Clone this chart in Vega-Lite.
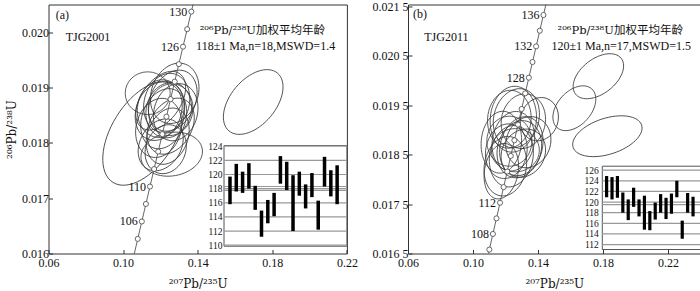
{
"$schema": "https://vega.github.io/schema/vega-lite/v6.json",
"autosize": {"type": "pad"},
"padding": {"left": 4.5, "top": -0.5, "right": 0, "bottom": 0},
"bounds": "flush",
"spacing": 60.5,
"config": {
  "font": "Liberation Serif",
  "view": {"stroke": "#333", "strokeWidth": 1},
  "axis": {"labelFont": "Liberation Serif", "labelFontSize": 12, "labelColor": "#111", "titleFont": "DejaVu Serif", "titleFontSize": 12, "titleFontWeight": "normal", "titleColor": "#111", "tickColor": "#333", "grid": false, "domain": false, "labelFlush": false, "labelOverlap": false}
},
"resolve": {"scale": {"size": "independent", "shape": "independent", "angle": "independent"}},
"datasets": {
  "conc": [
    {"t":100,"pb207_u235":0.103498,"pb206_u238":0.015633},
    {"t":102,"pb207_u235":0.105674,"pb206_u238":0.015949},
    {"t":104,"pb207_u235":0.107854,"pb206_u238":0.016264},
    {"t":106,"pb207_u235":0.110039,"pb206_u238":0.016579},
    {"t":108,"pb207_u235":0.112227,"pb206_u238":0.016895},
    {"t":110,"pb207_u235":0.114419,"pb206_u238":0.017210},
    {"t":112,"pb207_u235":0.116617,"pb206_u238":0.017526},
    {"t":114,"pb207_u235":0.118818,"pb206_u238":0.017842},
    {"t":116,"pb207_u235":0.121024,"pb206_u238":0.018157},
    {"t":118,"pb207_u235":0.123234,"pb206_u238":0.018473},
    {"t":120,"pb207_u235":0.125449,"pb206_u238":0.018789},
    {"t":122,"pb207_u235":0.127668,"pb206_u238":0.019106},
    {"t":124,"pb207_u235":0.129891,"pb206_u238":0.019422},
    {"t":126,"pb207_u235":0.132119,"pb206_u238":0.019738},
    {"t":128,"pb207_u235":0.134351,"pb206_u238":0.020054},
    {"t":130,"pb207_u235":0.136588,"pb206_u238":0.020371},
    {"t":132,"pb207_u235":0.138829,"pb206_u238":0.020688},
    {"t":134,"pb207_u235":0.141074,"pb206_u238":0.021004},
    {"t":136,"pb207_u235":0.143324,"pb206_u238":0.021321},
    {"t":138,"pb207_u235":0.145578,"pb206_u238":0.021638},
    {"t":140,"pb207_u235":0.147837,"pb206_u238":0.021955}
  ],
  "ellA": [
    {"pb207_u235":0.12177,"pb206_u238":0.018436,"major":0.03324,"aspect":"0.7","tilt":70},
    {"pb207_u235":0.12338,"pb206_u238":0.018722,"major":0.03217,"aspect":"0.75","tilt":75},
    {"pb207_u235":0.12016,"pb206_u238":0.018619,"major":0.03110,"aspect":"0.8","tilt":80},
    {"pb207_u235":0.12660,"pb206_u238":0.018762,"major":0.03432,"aspect":"0.7","tilt":65},
    {"pb207_u235":0.11909,"pb206_u238":0.018270,"major":0.03217,"aspect":"0.75","tilt":75},
    {"pb207_u235":0.12606,"pb206_u238":0.017795,"major":0.03324,"aspect":"0.7","tilt":10},
    {"pb207_u235":0.12016,"pb206_u238":0.017963,"major":0.02949,"aspect":"0.75","tilt":60},
    {"pb207_u235":0.12391,"pb206_u238":0.018120,"major":0.03110,"aspect":"0.7","tilt":70},
    {"pb207_u235":0.12767,"pb206_u238":0.018895,"major":0.03324,"aspect":"0.75","tilt":70},
    {"pb207_u235":0.12016,"pb206_u238":0.018762,"major":0.03539,"aspect":"0.6","tilt":55},
    {"pb207_u235":0.11105,"pb206_u238":0.018174,"major":0.06220,"aspect":"0.55","tilt":58},
    {"pb207_u235":0.12445,"pb206_u238":0.018590,"major":0.03003,"aspect":"0.8","tilt":75},
    {"pb207_u235":0.12552,"pb206_u238":0.018301,"major":0.03217,"aspect":"0.7","tilt":60},
    {"pb207_u235":0.12820,"pb206_u238":0.018554,"major":0.03110,"aspect":"0.75","tilt":75},
    {"pb207_u235":0.12284,"pb206_u238":0.017885,"major":0.02681,"aspect":"0.8","tilt":70},
    {"pb207_u235":0.11319,"pb206_u238":0.018897,"major":0.02413,"aspect":"0.95","tilt":0},
    {"pb207_u235":0.12552,"pb206_u238":0.018599,"major":0.02788,"aspect":"0.85","tilt":80},
    {"pb207_u235":0.11909,"pb206_u238":0.018572,"major":0.03217,"aspect":"0.75","tilt":70},
    {"pb207_u235":0.16976,"pb206_u238":0.018738,"major":0.04048,"aspect":"0.6","tilt":50}
  ],
  "ellB": [
    {"pb207_u235":0.12665,"pb206_u238":0.019235,"major":0.03692,"aspect":"0.75","tilt":75},
    {"pb207_u235":0.13095,"pb206_u238":0.019175,"major":0.03385,"aspect":"0.8","tilt":80},
    {"pb207_u235":0.12234,"pb206_u238":0.019215,"major":0.03569,"aspect":"0.75","tilt":85},
    {"pb207_u235":0.12480,"pb206_u238":0.018770,"major":0.03692,"aspect":"0.7","tilt":80},
    {"pb207_u235":0.12049,"pb206_u238":0.018568,"major":0.03385,"aspect":"0.75","tilt":80},
    {"pb207_u235":0.14080,"pb206_u238":0.019215,"major":0.02708,"aspect":"0.85","tilt":70},
    {"pb207_u235":0.12849,"pb206_u238":0.018608,"major":0.03569,"aspect":"0.75","tilt":75},
    {"pb207_u235":0.12357,"pb206_u238":0.018467,"major":0.03815,"aspect":"0.7","tilt":80},
    {"pb207_u235":0.11988,"pb206_u238":0.018265,"major":0.03692,"aspect":"0.7","tilt":80},
    {"pb207_u235":0.13095,"pb206_u238":0.018528,"major":0.03077,"aspect":"0.85","tilt":60},
    {"pb207_u235":0.11742,"pb206_u238":0.018750,"major":0.03815,"aspect":"0.65","tilt":85},
    {"pb207_u235":0.12603,"pb206_u238":0.018588,"major":0.02954,"aspect":"0.9","tilt":0},
    {"pb207_u235":0.13403,"pb206_u238":0.018750,"major":0.03200,"aspect":"0.85","tilt":70},
    {"pb207_u235":0.12480,"pb206_u238":0.019215,"major":0.04062,"aspect":"0.7","tilt":85},
    {"pb207_u235":0.11742,"pb206_u238":0.018164,"major":0.03446,"aspect":"0.6","tilt":80},
    {"pb207_u235":0.12234,"pb206_u238":0.018770,"major":0.03077,"aspect":"0.9","tilt":90},
    {"pb207_u235":0.12972,"pb206_u238":0.018669,"major":0.03692,"aspect":"0.7","tilt":75},
    {"pb207_u235":0.17711,"pb206_u238":0.020084,"major":0.03569,"aspect":"0.6","tilt":38},
    {"pb207_u235":0.16234,"pb206_u238":0.019437,"major":0.03200,"aspect":"0.65","tilt":48},
    {"pb207_u235":0.18265,"pb206_u238":0.018871,"major":0.04431,"aspect":"0.5","tilt":18}
  ],
  "txtA": [
    {"pb207_u235":0.0639,"pb206_u238":0.020307,"txt":"(a)","role":"left"},
    {"pb207_u235":0.06922,"pb206_u238":0.019909,"txt":"TJG2001","role":"left"},
    {"pb207_u235":0.17465,"pb206_u238":0.020017,"txt":"²⁰⁶Pb/²³⁸U加权平均年龄","role":"sup"},
    {"pb207_u235":0.17642,"pb206_u238":0.019746,"txt":"118±1 Ma,n=18,MSWD=1.4","role":"center"}
  ],
  "txtB": [
    {"pb207_u235":0.06308,"pb206_u238":0.021338,"txt":"(b)","role":"left"},
    {"pb207_u235":0.07002,"pb206_u238":0.020873,"txt":"TJG2011","role":"left"},
    {"pb207_u235":0.19057,"pb206_u238":0.020994,"txt":"²⁰⁶Pb/²³⁸U加权平均年龄","role":"sup"},
    {"pb207_u235":0.19118,"pb206_u238":0.020691,"txt":"120±1 Ma,n=17,MSWD=1.5","role":"center"}
  ],
  "barA": [
    {"i":1,"lo":115.8,"hi":119.7},{"i":2,"lo":117.6,"hi":121.5},{"i":3,"lo":117.4,"hi":120.4},
    {"i":4,"lo":118.0,"hi":121.6},{"i":5,"lo":115.0,"hi":118.4},{"i":6,"lo":111.2,"hi":114.9},
    {"i":7,"lo":113.1,"hi":116.4},{"i":8,"lo":114.1,"hi":117.4},{"i":9,"lo":118.7,"hi":122.6},
    {"i":10,"lo":117.8,"hi":121.8},{"i":11,"lo":112.0,"hi":119.9},{"i":12,"lo":117.0,"hi":120.4},
    {"i":13,"lo":115.2,"hi":118.6},{"i":14,"lo":116.8,"hi":120.2},{"i":15,"lo":112.2,"hi":116.3},
    {"i":16,"lo":118.3,"hi":122.5},{"i":17,"lo":116.9,"hi":120.6},{"i":18,"lo":115.8,"hi":121.3}
  ],
  "barB": [
    {"i":1,"lo":120.9,"hi":124.9},{"i":2,"lo":120.5,"hi":124.7},{"i":3,"lo":120.8,"hi":124.9},
    {"i":4,"lo":118.0,"hi":121.8},{"i":5,"lo":116.6,"hi":120.5},{"i":6,"lo":119.1,"hi":122.7},
    {"i":7,"lo":117.3,"hi":120.5},{"i":8,"lo":114.8,"hi":121.2},{"i":9,"lo":114.7,"hi":118.3},
    {"i":10,"lo":116.7,"hi":119.9},{"i":11,"lo":118.0,"hi":121.5},{"i":12,"lo":116.8,"hi":120.8},
    {"i":13,"lo":117.8,"hi":121.6},{"i":14,"lo":120.9,"hi":124.0},{"i":15,"lo":113.1,"hi":116.5},
    {"i":16,"lo":118.0,"hi":121.7},{"i":17,"lo":117.3,"hi":121.0}
  ],
  "gridA": [{"v":110},{"v":112},{"v":114},{"v":116},{"v":118},{"v":120},{"v":122},{"v":124},{"v":117.75},{"v":118.3}],
  "gridB": [{"v":112},{"v":114},{"v":116},{"v":118},{"v":120},{"v":122},{"v":124},{"v":126},{"v":119.5}]
},
"hconcat": [
 {
  "width": 298.4, "height": 249,
  "layer": [
   {"layer": [
     {"data": {"name": "ellA"},
      "mark": {"type": "point", "filled": false, "stroke": "#3a3a3a", "strokeWidth": 0.8, "opacity": 1, "clip": true},
      "encoding": {
        "x": {"field": "pb207_u235", "type": "quantitative", "scale": {"domain": [0.06, 0.22], "nice": false, "zero": false},
              "axis": {"values": [0.06, 0.1, 0.14, 0.18, 0.22], "format": ".2f", "title": "²⁰⁷Pb/²³⁵U", "tickSize": -4, "labelPadding": 8, "titlePadding": 10}},
        "y": {"field": "pb206_u238", "type": "quantitative", "scale": {"domain": [0.016, 0.0205], "nice": false, "zero": false},
              "axis": {"values": [0.016, 0.017, 0.018, 0.019, 0.02], "format": ".3f", "title": "²⁰⁶Pb/²³⁸U", "tickSize": -4, "labelPadding": 4, "titlePadding": 3}},
        "size": {"field": "major", "type": "quantitative", "scale": {"type": "pow", "exponent": 2, "domain": [0, 0.08], "range": [0, 22260]}, "legend": null},
        "angle": {"field": "tilt", "type": "quantitative", "scale": {"domain": [0, 180], "range": [360, 180]}, "legend": null},
        "shape": {"field": "aspect", "type": "nominal", "legend": null, "scale": {
          "domain": ["0.5","0.55","0.6","0.65","0.7","0.75","0.8","0.85","0.9","0.95"],
          "range": [
            "M-1,0C-1,-0.2762 -0.5523,-0.5 0,-0.5C0.5523,-0.5 1,-0.2762 1,0C1,0.2762 0.5523,0.5 0,0.5C-0.5523,0.5 -1,0.2762 -1,0Z",
            "M-1,0C-1,-0.3038 -0.5523,-0.55 0,-0.55C0.5523,-0.55 1,-0.3038 1,0C1,0.3038 0.5523,0.55 0,0.55C-0.5523,0.55 -1,0.3038 -1,0Z",
            "M-1,0C-1,-0.3314 -0.5523,-0.6 0,-0.6C0.5523,-0.6 1,-0.3314 1,0C1,0.3314 0.5523,0.6 0,0.6C-0.5523,0.6 -1,0.3314 -1,0Z",
            "M-1,0C-1,-0.359 -0.5523,-0.65 0,-0.65C0.5523,-0.65 1,-0.359 1,0C1,0.359 0.5523,0.65 0,0.65C-0.5523,0.65 -1,0.359 -1,0Z",
            "M-1,0C-1,-0.3866 -0.5523,-0.7 0,-0.7C0.5523,-0.7 1,-0.3866 1,0C1,0.3866 0.5523,0.7 0,0.7C-0.5523,0.7 -1,0.3866 -1,0Z",
            "M-1,0C-1,-0.4142 -0.5523,-0.75 0,-0.75C0.5523,-0.75 1,-0.4142 1,0C1,0.4142 0.5523,0.75 0,0.75C-0.5523,0.75 -1,0.4142 -1,0Z",
            "M-1,0C-1,-0.4418 -0.5523,-0.8 0,-0.8C0.5523,-0.8 1,-0.4418 1,0C1,0.4418 0.5523,0.8 0,0.8C-0.5523,0.8 -1,0.4418 -1,0Z",
            "M-1,0C-1,-0.4695 -0.5523,-0.85 0,-0.85C0.5523,-0.85 1,-0.4695 1,0C1,0.4695 0.5523,0.85 0,0.85C-0.5523,0.85 -1,0.4695 -1,0Z",
            "M-1,0C-1,-0.4971 -0.5523,-0.9 0,-0.9C0.5523,-0.9 1,-0.4971 1,0C1,0.4971 0.5523,0.9 0,0.9C-0.5523,0.9 -1,0.4971 -1,0Z",
            "M-1,0C-1,-0.5247 -0.5523,-0.95 0,-0.95C0.5523,-0.95 1,-0.5247 1,0C1,0.5247 0.5523,0.95 0,0.95C-0.5523,0.95 -1,0.5247 -1,0Z"
          ]}}
      }},
     {"data": {"name": "conc"},
      "mark": {"type": "line", "color": "#555", "strokeWidth": 0.9, "clip": true},
      "encoding": {
        "x": {"field": "pb207_u235", "type": "quantitative", "scale": {"domain": [0.06, 0.22], "nice": false, "zero": false}},
        "y": {"field": "pb206_u238", "type": "quantitative", "scale": {"domain": [0.016, 0.0205], "nice": false, "zero": false}},
        "order": {"field": "t", "type": "quantitative"}
      }},
     {"data": {"name": "conc"},
      "mark": {"type": "point", "shape": "circle", "filled": true, "fill": "white", "stroke": "#444", "strokeWidth": 0.8, "size": 26, "opacity": 1, "clip": true},
      "encoding": {
        "x": {"field": "pb207_u235", "type": "quantitative", "scale": {"domain": [0.06, 0.22], "nice": false, "zero": false}},
        "y": {"field": "pb206_u238", "type": "quantitative", "scale": {"domain": [0.016, 0.0205], "nice": false, "zero": false}}
      }},
     {"data": {"name": "conc"},
      "transform": [{"filter": {"field": "t", "oneOf": [106, 110, 126, 130]}}],
      "mark": {"type": "text", "align": "right", "baseline": "middle", "dx": -4, "fontSize": 12, "font": "Liberation Serif", "color": "#111"},
      "encoding": {
        "x": {"field": "pb207_u235", "type": "quantitative", "scale": {"domain": [0.06, 0.22], "nice": false, "zero": false}},
        "y": {"field": "pb206_u238", "type": "quantitative", "scale": {"domain": [0.016, 0.0205], "nice": false, "zero": false}},
        "text": {"field": "t"}
      }},
     {"data": {"name": "txtA"},
      "transform": [{"filter": "datum.role == 'left'"}],
      "mark": {"type": "text", "align": "left", "baseline": "middle", "fontSize": 12, "font": "Liberation Serif", "color": "#111"},
      "encoding": {
        "x": {"field": "pb207_u235", "type": "quantitative", "scale": {"domain": [0.06, 0.22], "nice": false, "zero": false}},
        "y": {"field": "pb206_u238", "type": "quantitative", "scale": {"domain": [0.016, 0.0205], "nice": false, "zero": false}},
        "text": {"field": "txt"}
      }},
     {"data": {"name": "txtA"},
      "transform": [{"filter": "datum.role == 'center'"}],
      "mark": {"type": "text", "align": "center", "baseline": "middle", "fontSize": 12, "font": "Liberation Serif", "color": "#111"},
      "encoding": {
        "x": {"field": "pb207_u235", "type": "quantitative", "scale": {"domain": [0.06, 0.22], "nice": false, "zero": false}},
        "y": {"field": "pb206_u238", "type": "quantitative", "scale": {"domain": [0.016, 0.0205], "nice": false, "zero": false}},
        "text": {"field": "txt"}
      }},
     {"data": {"name": "txtA"},
      "transform": [{"filter": "datum.role == 'sup'"}],
      "mark": {"type": "text", "align": "center", "baseline": "middle", "fontSize": 11.5, "font": "DejaVu Serif, Noto Sans CJK SC", "color": "#111"},
      "encoding": {
        "x": {"field": "pb207_u235", "type": "quantitative", "scale": {"domain": [0.06, 0.22], "nice": false, "zero": false}},
        "y": {"field": "pb206_u238", "type": "quantitative", "scale": {"domain": [0.016, 0.0205], "nice": false, "zero": false}},
        "text": {"field": "txt"}
      }}
   ]},
   {"layer": [
     {"data": {"values": [{}]},
      "mark": {"type": "rect", "fill": "white", "stroke": "#555", "strokeWidth": 1},
      "encoding": {
        "x": {"datum": 0.05, "type": "quantitative", "scale": {"domain": [0.05, 19.55], "range": [175.5, 298.4], "nice": false, "zero": false}, "axis": null},
        "x2": {"datum": 19.55},
        "y": {"datum": 109.86, "type": "quantitative", "scale": {"domain": [109.86, 124.1], "range": [241.7, 141.0], "nice": false, "zero": false},
              "axis": {"orient": "left", "offset": -175.5, "values": [110,112,114,116,118,120,122,124], "ticks": false, "domain": false, "labelFontSize": 9.5, "labelPadding": 2, "labelOverlap": false, "labelBound": false, "title": null}},
        "y2": {"datum": 124.1}
      }},
     {"data": {"name": "gridA"},
      "mark": {"type": "rule", "color": "#999", "strokeWidth": 1.2},
      "encoding": {
        "x": {"datum": 0.05, "type": "quantitative", "scale": {"domain": [0.05, 19.55], "range": [175.5, 298.4], "nice": false, "zero": false}, "axis": null},
        "x2": {"datum": 19.55},
        "y": {"field": "v", "type": "quantitative", "scale": {"domain": [109.86, 124.1], "range": [241.7, 141.0], "nice": false, "zero": false},
              "axis": {"orient": "left", "offset": -175.5, "values": [110,112,114,116,118,120,122,124], "ticks": false, "domain": false, "labelFontSize": 9.5, "labelPadding": 2, "labelOverlap": false, "labelBound": false, "title": null}}
      }},
     {"data": {"name": "barA"},
      "mark": {"type": "rule", "color": "#000", "strokeWidth": 3.5},
      "encoding": {
        "x": {"field": "i", "type": "quantitative", "scale": {"domain": [0.05, 19.55], "range": [175.5, 298.4], "nice": false, "zero": false}, "axis": null},
        "y": {"field": "lo", "type": "quantitative", "scale": {"domain": [109.86, 124.1], "range": [241.7, 141.0], "nice": false, "zero": false},
              "axis": {"orient": "left", "offset": -175.5, "values": [110,112,114,116,118,120,122,124], "ticks": false, "domain": false, "labelFontSize": 9.5, "labelPadding": 2, "labelOverlap": false, "labelBound": false, "title": null}},
        "y2": {"field": "hi"}
      }}
   ]}
  ],
  "resolve": {"scale": {"x": "independent", "y": "independent"}, "axis": {"x": "independent", "y": "independent"}}
 },
 {
  "width": 292.6, "height": 249,
  "layer": [
   {"layer": [
     {"data": {"name": "ellB"},
      "mark": {"type": "point", "filled": false, "stroke": "#3a3a3a", "strokeWidth": 0.8, "opacity": 1, "clip": true},
      "encoding": {
        "x": {"field": "pb207_u235", "type": "quantitative", "scale": {"domain": [0.06, 0.24], "nice": false, "zero": false},
              "axis": {"values": [0.06, 0.1, 0.14, 0.18, 0.22], "format": ".2f", "title": "²⁰⁷Pb/²³⁵U", "tickSize": -4, "labelPadding": 8, "titlePadding": 10}},
        "y": {"field": "pb206_u238", "type": "quantitative", "scale": {"domain": [0.0165, 0.021534], "nice": false, "zero": false},
              "axis": {"values": [0.0165, 0.0175, 0.0185, 0.0195, 0.0205, 0.0215], "labelExpr": "slice(format(datum.value,'.4f'),0,5) + ' ' + slice(format(datum.value,'.4f'),5)", "title": null, "tickSize": -4, "labelPadding": 4}},
        "size": {"field": "major", "type": "quantitative", "scale": {"type": "pow", "exponent": 2, "domain": [0, 0.08], "range": [0, 16900]}, "legend": null},
        "angle": {"field": "tilt", "type": "quantitative", "scale": {"domain": [0, 180], "range": [360, 180]}, "legend": null},
        "shape": {"field": "aspect", "type": "nominal", "legend": null, "scale": {
          "domain": ["0.5","0.55","0.6","0.65","0.7","0.75","0.8","0.85","0.9","0.95"],
          "range": [
            "M-1,0C-1,-0.2762 -0.5523,-0.5 0,-0.5C0.5523,-0.5 1,-0.2762 1,0C1,0.2762 0.5523,0.5 0,0.5C-0.5523,0.5 -1,0.2762 -1,0Z",
            "M-1,0C-1,-0.3038 -0.5523,-0.55 0,-0.55C0.5523,-0.55 1,-0.3038 1,0C1,0.3038 0.5523,0.55 0,0.55C-0.5523,0.55 -1,0.3038 -1,0Z",
            "M-1,0C-1,-0.3314 -0.5523,-0.6 0,-0.6C0.5523,-0.6 1,-0.3314 1,0C1,0.3314 0.5523,0.6 0,0.6C-0.5523,0.6 -1,0.3314 -1,0Z",
            "M-1,0C-1,-0.359 -0.5523,-0.65 0,-0.65C0.5523,-0.65 1,-0.359 1,0C1,0.359 0.5523,0.65 0,0.65C-0.5523,0.65 -1,0.359 -1,0Z",
            "M-1,0C-1,-0.3866 -0.5523,-0.7 0,-0.7C0.5523,-0.7 1,-0.3866 1,0C1,0.3866 0.5523,0.7 0,0.7C-0.5523,0.7 -1,0.3866 -1,0Z",
            "M-1,0C-1,-0.4142 -0.5523,-0.75 0,-0.75C0.5523,-0.75 1,-0.4142 1,0C1,0.4142 0.5523,0.75 0,0.75C-0.5523,0.75 -1,0.4142 -1,0Z",
            "M-1,0C-1,-0.4418 -0.5523,-0.8 0,-0.8C0.5523,-0.8 1,-0.4418 1,0C1,0.4418 0.5523,0.8 0,0.8C-0.5523,0.8 -1,0.4418 -1,0Z",
            "M-1,0C-1,-0.4695 -0.5523,-0.85 0,-0.85C0.5523,-0.85 1,-0.4695 1,0C1,0.4695 0.5523,0.85 0,0.85C-0.5523,0.85 -1,0.4695 -1,0Z",
            "M-1,0C-1,-0.4971 -0.5523,-0.9 0,-0.9C0.5523,-0.9 1,-0.4971 1,0C1,0.4971 0.5523,0.9 0,0.9C-0.5523,0.9 -1,0.4971 -1,0Z",
            "M-1,0C-1,-0.5247 -0.5523,-0.95 0,-0.95C0.5523,-0.95 1,-0.5247 1,0C1,0.5247 0.5523,0.95 0,0.95C-0.5523,0.95 -1,0.5247 -1,0Z"
          ]}}
      }},
     {"data": {"name": "conc"},
      "mark": {"type": "line", "color": "#555", "strokeWidth": 0.9, "clip": true},
      "encoding": {
        "x": {"field": "pb207_u235", "type": "quantitative", "scale": {"domain": [0.06, 0.24], "nice": false, "zero": false}},
        "y": {"field": "pb206_u238", "type": "quantitative", "scale": {"domain": [0.0165, 0.021534], "nice": false, "zero": false}},
        "order": {"field": "t", "type": "quantitative"}
      }},
     {"data": {"name": "conc"},
      "mark": {"type": "point", "shape": "circle", "filled": true, "fill": "white", "stroke": "#444", "strokeWidth": 0.8, "size": 26, "opacity": 1, "clip": true},
      "encoding": {
        "x": {"field": "pb207_u235", "type": "quantitative", "scale": {"domain": [0.06, 0.24], "nice": false, "zero": false}},
        "y": {"field": "pb206_u238", "type": "quantitative", "scale": {"domain": [0.0165, 0.021534], "nice": false, "zero": false}}
      }},
     {"data": {"name": "conc"},
      "transform": [{"filter": {"field": "t", "oneOf": [108, 112, 128, 132, 136]}}],
      "mark": {"type": "text", "align": "right", "baseline": "middle", "dx": -4, "fontSize": 12, "font": "Liberation Serif", "color": "#111"},
      "encoding": {
        "x": {"field": "pb207_u235", "type": "quantitative", "scale": {"domain": [0.06, 0.24], "nice": false, "zero": false}},
        "y": {"field": "pb206_u238", "type": "quantitative", "scale": {"domain": [0.0165, 0.021534], "nice": false, "zero": false}},
        "text": {"field": "t"}
      }},
     {"data": {"name": "txtB"},
      "transform": [{"filter": "datum.role == 'left'"}],
      "mark": {"type": "text", "align": "left", "baseline": "middle", "fontSize": 12, "font": "Liberation Serif", "color": "#111"},
      "encoding": {
        "x": {"field": "pb207_u235", "type": "quantitative", "scale": {"domain": [0.06, 0.24], "nice": false, "zero": false}},
        "y": {"field": "pb206_u238", "type": "quantitative", "scale": {"domain": [0.0165, 0.021534], "nice": false, "zero": false}},
        "text": {"field": "txt"}
      }},
     {"data": {"name": "txtB"},
      "transform": [{"filter": "datum.role == 'center'"}],
      "mark": {"type": "text", "align": "center", "baseline": "middle", "fontSize": 12, "font": "Liberation Serif", "color": "#111"},
      "encoding": {
        "x": {"field": "pb207_u235", "type": "quantitative", "scale": {"domain": [0.06, 0.24], "nice": false, "zero": false}},
        "y": {"field": "pb206_u238", "type": "quantitative", "scale": {"domain": [0.0165, 0.021534], "nice": false, "zero": false}},
        "text": {"field": "txt"}
      }},
     {"data": {"name": "txtB"},
      "transform": [{"filter": "datum.role == 'sup'"}],
      "mark": {"type": "text", "align": "center", "baseline": "middle", "fontSize": 11.5, "font": "DejaVu Serif, Noto Sans CJK SC", "color": "#111"},
      "encoding": {
        "x": {"field": "pb207_u235", "type": "quantitative", "scale": {"domain": [0.06, 0.24], "nice": false, "zero": false}},
        "y": {"field": "pb206_u238", "type": "quantitative", "scale": {"domain": [0.0165, 0.021534], "nice": false, "zero": false}},
        "text": {"field": "txt"}
      }}
   ]},
   {"layer": [
     {"data": {"values": [{}]},
      "mark": {"type": "rect", "fill": "white", "stroke": "#555", "strokeWidth": 1},
      "encoding": {
        "x": {"datum": 0.2, "type": "quantitative", "scale": {"domain": [0.2, 18.4], "range": [194.3, 292.6], "nice": false, "zero": false}, "axis": null},
        "x2": {"datum": 18.4},
        "y": {"datum": 111.07, "type": "quantitative", "scale": {"domain": [111.07, 126.75], "range": [245.0, 161.7], "nice": false, "zero": false},
              "axis": {"orient": "left", "offset": -194.3, "values": [112,114,116,118,120,122,124,126], "ticks": false, "domain": false, "labelFontSize": 9.5, "labelPadding": 4, "labelOverlap": false, "labelBound": false, "title": null}},
        "y2": {"datum": 126.75}
      }},
     {"data": {"name": "gridB"},
      "mark": {"type": "rule", "color": "#999", "strokeWidth": 1.2},
      "encoding": {
        "x": {"datum": 0.2, "type": "quantitative", "scale": {"domain": [0.2, 18.4], "range": [194.3, 292.6], "nice": false, "zero": false}, "axis": null},
        "x2": {"datum": 18.4},
        "y": {"field": "v", "type": "quantitative", "scale": {"domain": [111.07, 126.75], "range": [245.0, 161.7], "nice": false, "zero": false},
              "axis": {"orient": "left", "offset": -194.3, "values": [112,114,116,118,120,122,124,126], "ticks": false, "domain": false, "labelFontSize": 9.5, "labelPadding": 4, "labelOverlap": false, "labelBound": false, "title": null}}
      }},
     {"data": {"name": "barB"},
      "mark": {"type": "rule", "color": "#000", "strokeWidth": 3.2},
      "encoding": {
        "x": {"field": "i", "type": "quantitative", "scale": {"domain": [0.2, 18.4], "range": [194.3, 292.6], "nice": false, "zero": false}, "axis": null},
        "y": {"field": "lo", "type": "quantitative", "scale": {"domain": [111.07, 126.75], "range": [245.0, 161.7], "nice": false, "zero": false},
              "axis": {"orient": "left", "offset": -194.3, "values": [112,114,116,118,120,122,124,126], "ticks": false, "domain": false, "labelFontSize": 9.5, "labelPadding": 4, "labelOverlap": false, "labelBound": false, "title": null}},
        "y2": {"field": "hi"}
      }}
   ]}
  ],
  "resolve": {"scale": {"x": "independent", "y": "independent"}, "axis": {"x": "independent", "y": "independent"}}
 }
]
}
